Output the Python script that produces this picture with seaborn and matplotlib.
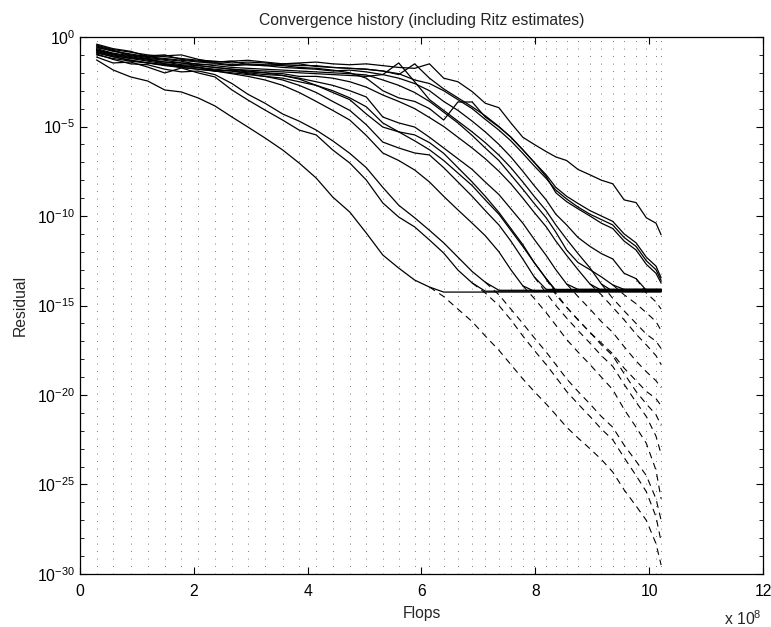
import numpy as np
import pandas as pd
import matplotlib
matplotlib.use("Agg")
import matplotlib.pyplot as plt
from matplotlib.ticker import FixedLocator, NullFormatter
import seaborn as sns

# ---------------- data (flops in units of 1e8, residuals as log10) ----------------
flops_e8 = [0.29, 0.58, 0.89, 1.19, 1.49, 1.78, 2.08, 2.37, 2.67, 2.95,
            3.25, 3.56, 3.85, 4.15, 4.44, 4.74, 5.03, 5.32, 5.60, 5.88,
            6.14, 6.39, 6.64, 6.89, 7.12, 7.36, 7.57, 7.78, 7.98, 8.19,
            8.36, 8.55, 8.75, 8.96, 9.16, 9.36, 9.56, 9.77, 9.95, 10.12, 10.21]

res_A = [-1.28, -1.84, -2.23, -2.46, -2.96, -3.07, -3.41, -3.85, -4.47, -5.03,
         -5.64, -6.31, -7.04, -7.88, -8.94, -9.78, -10.95, -12.18, -12.91, -13.58,
         -13.97, -14.5, -15.2, -15.9, -16.7, -17.5, -18.3, -19.1, -19.8, -20.5,
         -21.1, -21.8, -22.4, -23.0, -23.6, -24.3, -25.3, -26.2, -27.0, -28.3, -29.5]
res_B = [-1.12, -1.45, -1.40, -1.68, -2.01, -1.73, -2.01, -2.23, -2.96, -3.52,
         -4.08, -4.64, -5.20, -5.47, -6.31, -7.04, -7.99, -9.27, -10.06, -10.61,
         -11.34, -12.07, -13.02, -13.74, -14.3, -15.0, -15.8, -16.7, -17.5, -18.3,
         -19.0, -19.8, -20.5, -21.2, -21.9, -22.5, -23.5, -24.5, -25.4, -26.8, -28.2]
res_C = [-0.95, -1.25, -1.5, -1.55, -1.8, -1.95, -1.9, -2.1, -2.6, -3.2,
         -3.7, -4.3, -4.7, -5.2, -5.8, -6.5, -7.3, -8.4, -9.4, -10.1,
         -10.8, -11.5, -12.3, -13.1, -13.7, -14.4, -15.2, -16.0, -16.8, -17.6,
         -18.3, -19.1, -19.8, -20.5, -21.2, -21.8, -22.8, -23.7, -24.5, -25.8, -27.0]
res_D = [-0.85, -1.1, -1.3, -1.45, -1.55, -1.7, -1.8, -1.9, -2.05, -2.2,
         -2.4, -2.7, -3.1, -3.6, -4.1, -4.64, -5.5, -6.48, -6.9, -7.43,
         -8.1, -8.9, -9.66, -10.4, -11.1, -12.0, -13.0, -13.9, -14.6, -15.4,
         -16.1, -16.9, -17.6, -18.3, -19.0, -19.7, -20.8, -21.8, -22.7, -24.2, -25.8]
res_E = [-0.75, -1.0, -1.2, -1.35, -1.5, -1.6, -1.7, -1.8, -1.9, -2.05,
         -2.2, -2.4, -2.7, -3.1, -3.6, -4.1, -4.9, -5.87, -6.2, -6.48,
         -6.59, -7.3, -8.1, -8.9, -9.7, -10.5, -11.4, -12.4, -13.4, -14.3,
         -15.0, -15.7, -16.4, -17.1, -17.8, -18.4, -19.4, -20.4, -21.2, -22.3, -23.3]
res_F = [-0.7, -0.95, -1.1, -1.25, -1.4, -1.45, -1.6, -1.7, -1.8, -1.9,
         -2.0, -2.15, -2.35, -2.7, -3.1, -3.5, -4.3, -5.03, -5.3, -5.47,
         -5.9, -6.5, -7.3, -8.1, -8.9, -9.8, -10.7, -11.6, -12.6, -13.5,
         -14.4, -15.1, -15.8, -16.5, -17.2, -17.8, -18.8, -19.8, -20.5, -21.1, -21.7]
res_H = [-1.0, -1.2, -1.35, -1.45, -1.6, -1.7, -1.8, -1.9, -2.0, -2.1,
         -2.2, -2.3, -2.5, -2.7, -3.0, -3.4, -3.9, -4.8, -5.3, -5.8,
         -6.3, -6.9, -7.6, -8.3, -9.1, -9.9, -10.8, -11.7, -12.6, -13.5,
         -14.3, -15.1, -15.8, -16.5, -17.1, -17.7, -18.5, -19.2, -19.8, -20.2, -20.6]
res_I = [-0.9, -1.1, -1.3, -1.45, -1.55, -1.65, -1.7, -1.85, -1.9, -2.0,
         -2.1, -2.15, -2.3, -2.5, -2.7, -3.0, -3.35, -4.47, -4.8, -5.03,
         -5.6, -6.2, -6.8, -7.4, -8.1, -8.8, -9.6, -10.4, -11.3, -12.2,
         -13.0, -13.8, -14.5, -15.2, -15.9, -16.5, -17.3, -18.1, -18.7, -19.2, -19.6]
res_J = [-0.8, -1.05, -1.2, -1.2, -1.5, -1.6, -1.7, -1.9, -1.85, -1.95,
         -2.0, -2.05, -2.2, -2.2, -2.3, -2.5, -2.8, -3.24, -3.6, -4.0,
         -4.5, -5.0, -5.6, -6.2, -6.8, -7.5, -8.2, -9.0, -9.8, -10.6,
         -11.4, -12.2, -13.0, -13.8, -14.4, -15.1, -15.8, -16.6, -17.2, -17.8, -18.3]
res_K = [-0.75, -0.95, -1.15, -1.3, -1.4, -1.55, -1.6, -1.7, -1.8, -1.85,
         -1.9, -1.95, -2.0, -2.05, -2.1, -2.15, -2.2, -2.1, -1.45, -2.5,
         -3.5, -4.1, -4.7, -5.3, -5.9, -6.6, -7.3, -8.1, -8.9, -9.7,
         -10.5, -11.3, -12.1, -12.9, -13.8, -14.6, -15.3, -16.0, -16.6, -17.0, -17.4]
res_M = [-0.65, -0.9, -1.05, -1.2, -1.3, -1.45, -1.5, -1.6, -1.7, -1.75,
         -1.8, -1.85, -1.9, -1.95, -2.0, -2.05, -2.12, -2.4, -2.7, -3.1,
         -3.6, -4.2, -4.8, -5.5, -6.2, -6.9, -7.7, -8.5, -9.3, -10.1,
         -10.9, -11.9, -12.6, -13.0, -13.4, -13.85, -14.4, -14.9, -15.4, -15.9, -16.4]
res_N = [-0.6, -0.75, -1.0, -1.15, -1.25, -1.35, -1.55, -1.5, -1.6, -1.55,
         -1.6, -1.7, -1.75, -1.8, -1.9, -1.85, -1.95, -2.1, -2.3, -2.6,
         -3.0, -3.6, -4.1, -4.7, -5.3, -6.0, -6.7, -7.5, -8.3, -9.1,
         -9.9, -10.5, -11.2, -11.7, -12.1, -12.4, -13.2, -13.5, -14.3, -14.8, -15.2]
res_G1 = [-0.5, -0.75, -1.05, -1.05, -1.0, -1.25, -1.35, -1.4, -1.35, -1.55,
          -1.6, -1.5, -1.5, -1.65, -1.7, -1.75, -1.8, -1.9, -2.1, -1.5,
          -2.3, -2.9, -3.4, -3.9, -4.4, -5.0, -5.6, -6.3, -7.0, -7.7,
          -8.4, -8.9, -9.3, -9.7, -10.0, -10.3, -11.0, -11.5, -12.3, -12.8, -13.45]
res_G2 = [-0.45, -0.7, -0.85, -1.0, -1.1, -1.2, -1.3, -1.35, -1.45, -1.4,
          -1.45, -1.55, -1.6, -1.6, -1.7, -1.75, -1.8, -1.9, -2.05, -2.4,
          -2.6, -3.0, -3.5, -4.0, -4.6, -5.2, -5.8, -6.5, -7.2, -7.9,
          -8.55, -9.05, -9.5, -9.9, -10.2, -10.5, -11.2, -11.7, -12.5, -13.0, -13.6]
res_G3 = [-0.55, -0.8, -0.95, -1.1, -1.2, -1.3, -1.4, -1.45, -1.55, -1.5,
          -1.55, -1.6, -1.7, -1.75, -1.85, -2.0, -2.3, -3.0, -3.4, -3.6,
          -4.0, -4.64, -3.63, -3.63, -4.47, -5.03, -5.59, -6.3, -7.0, -7.8,
          -8.7, -9.2, -9.6, -10.0, -10.4, -10.7, -11.4, -11.9, -12.7, -13.2, -13.75]
res_T = [-0.4, -0.65, -0.8, -1.1, -1.05, -1.0, -1.25, -1.4, -1.35, -1.3,
         -1.4, -1.5, -1.45, -1.4, -1.5, -1.55, -1.5, -1.6, -1.7, -1.75,
         -1.5, -2.3, -2.5, -3.05, -3.7, -3.95, -4.8, -5.6, -6.0, -6.4,
         -6.7, -6.9, -7.4, -7.7, -8.0, -8.2, -9.1, -9.25, -10.1, -10.4, -11.05]

series_names = ["A", "B", "C", "D", "E", "F", "H", "I", "J", "K", "M", "N",
                "G1", "G2", "G3", "T"]
series_vals = [res_A, res_B, res_C, res_D, res_E, res_F, res_H, res_I, res_J,
               res_K, res_M, res_N, res_G1, res_G2, res_G3, res_T]
floor_levels = [-14.25, -14.2, -14.15, -14.2, -14.1, -14.15, -14.2, -14.1,
                -14.15, -14.2, -14.1, -14.15, -14.2, -14.2, -14.2, -14.2]

y_major = [0, -5, -10, -15, -20, -25, -30]
x_ticks = [0, 2, 4, 6, 8, 10, 12]
title_text = "Convergence history (including Ritz estimates)"

# ---------------- build tidy tables ----------------
solid_rows, dashed_rows = [], []
for name, vals, fl in zip(series_names, series_vals, floor_levels):
    v = np.asarray(vals, dtype=float)
    assert len(v) == len(flops_e8), name
    clipped = np.maximum(v, fl)
    for xi, yi in zip(flops_e8, clipped):
        solid_rows.append((name, xi, 10.0 ** yi))
    below = np.where(v < fl)[0]
    if len(below):
        k = below[0]
        for xi, yi in zip(flops_e8[k - 1:], v[k - 1:]):
            dashed_rows.append((name, xi, 10.0 ** yi))
solid_df = pd.DataFrame(solid_rows, columns=["series", "flops", "residual"])
dashed_df = pd.DataFrame(dashed_rows, columns=["series", "flops", "residual"])

# ---------------- style ----------------
sns.set_style("ticks")
plt.rcParams["font.family"] = ["Liberation Sans", "DejaVu Sans"]
plt.rcParams["mathtext.default"] = "regular"
FS = 11.3

fig = plt.figure(figsize=(7.71, 6.27), dpi=100)
W, Hh = 771.0, 627.0
ax_left, ax_right, ax_top, ax_bot = 80, 763, 37, 574
ax = fig.add_axes([ax_left / W, 1 - ax_bot / Hh, (ax_right - ax_left) / W,
                   (ax_bot - ax_top) / Hh])
ax.set_yscale("log")

# vertical dotted iteration markers
for xi in flops_e8:
    ax.axvline(xi, color="0.3", lw=0.6, ls=(0, (1, 8)), zorder=0.5)

sns.lineplot(data=solid_df, x="flops", y="residual", units="series",
             estimator=None, sort=False, color="black", linewidth=0.9,
             legend=False, ax=ax)
sns.lineplot(data=dashed_df, x="flops", y="residual", units="series",
             estimator=None, sort=False, color="black", linewidth=0.8,
             linestyle=(0, (6, 4.5)), legend=False, ax=ax)

ax.set_xlim(0, 12)
ax.set_ylim(1e-30, 1)
ax.set_xticks(x_ticks)
ax.set_xticklabels([str(t) for t in x_ticks], fontsize=FS)
ax.yaxis.set_major_locator(FixedLocator([10.0 ** e for e in y_major]))
ax.set_yticklabels([r"$10^{%d}$" % e for e in y_major], fontsize=FS)
ax.yaxis.set_minor_locator(FixedLocator([10.0 ** e for e in range(-30, 1)]))
ax.yaxis.set_minor_formatter(NullFormatter())
ax.tick_params(which="both", direction="in", top=True, right=True,
               color="black", labelcolor="black")
ax.tick_params(which="major", length=5, width=0.8)
ax.tick_params(which="minor", length=3, width=0.6)
ax.tick_params(axis="x", pad=7.5)
for sp in ax.spines.values():
    sp.set_visible(True)
    sp.set_color("black")
    sp.set_linewidth(0.9)

ax.set_xlabel("Flops", fontsize=FS)
ax.set_ylabel("Residual", fontsize=FS)
ax.xaxis.set_label_coords(0.5, -(606 - ax_bot) / (ax_bot - ax_top))
ax.yaxis.set_label_coords(-(ax_left - 28) / (ax_right - ax_left), 0.5)
fig.text(0.5 * (ax_left + ax_right) / W, 1 - 21 / Hh, title_text,
         ha="center", va="center", fontsize=FS)
fig.text(743 / W, 1 - 619 / Hh, r"x 10$^{8}$", ha="center", va="center",
         fontsize=FS)

fig.savefig("out.png", dpi=100)
